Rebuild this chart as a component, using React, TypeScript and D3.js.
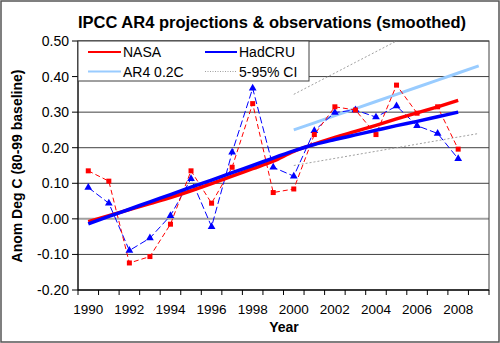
import React from "react";
import * as d3 from "d3";

const years = d3.range(1990, 2010).map(String);
const obsYears = d3.range(1990, 2009);
const nasa = [0.135, 0.106, -0.124, -0.106, -0.015, 0.135, 0.044, 0.145, 0.324, 0.074, 0.084, 0.237, 0.315, 0.306, 0.237, 0.376, 0.297, 0.315, 0.196];
const hadcru = [0.088, 0.044, -0.089, -0.054, 0.009, 0.113, -0.022, 0.187, 0.367, 0.145, 0.12, 0.248, 0.299, 0.306, 0.286, 0.317, 0.262, 0.24, 0.169];
const nasaSmooth = [-0.008, 0.009, 0.026, 0.043, 0.06, 0.079, 0.099, 0.12, 0.141, 0.162, 0.19, 0.21, 0.229, 0.246, 0.263, 0.281, 0.298, 0.315, 0.333];
const hadSmooth = [-0.014, 0.007, 0.027, 0.048, 0.068, 0.089, 0.109, 0.13, 0.15, 0.171, 0.191, 0.209, 0.223, 0.236, 0.249, 0.262, 0.274, 0.287, 0.3];
const projYears = d3.range(2000, 2010);
const ar4 = [0.25, 0.27, 0.29, 0.31, 0.33, 0.35, 0.37, 0.39, 0.41, 0.43];
const ciUpper = [0.35, 0.38, 0.41, 0.44, 0.47, 0.5, 0.53, 0.56, 0.59, 0.62];
const ciLower = [0.15, 0.16, 0.17, 0.18, 0.19, 0.2, 0.21, 0.22, 0.23, 0.24];
const yTicks = [-0.2, -0.1, 0, 0.1, 0.2, 0.3, 0.4, 0.5];
const xLabels = d3.range(1990, 2009, 2);

const FONT = "Arial, 'Liberation Sans', sans-serif";

export default function App() {
  const W = 500, H = 343;
  const L = 78, R = 489, T = 41, B = 290;
  const x = d3.scaleBand<string>().domain(years).range([L, R]).padding(0);
  const y = d3.scaleLinear().domain([-0.2, 0.5]).range([B, T]);
  const cx = (yr: number) => (x(String(yr)) as number) + x.bandwidth() / 2;

  const line = (yrs: number[], vals: number[]) =>
    d3.line<number>().x((_, i) => cx(yrs[i])).y((v) => y(v))(vals) || "";
  const smooth = (yrs: number[], vals: number[]) =>
    d3.line<number>().x((_, i) => cx(yrs[i])).y((v) => y(v)).curve(d3.curveMonotoneX)(vals) || "";

  const tri = d3.symbol().type(d3.symbolTriangle).size(26)() || "";

  const boundaries = d3.range(0, years.length + 1).map((i) => L + i * x.bandwidth());

  return (
    <svg width={W} height={H} style={{ position: "absolute", left: 0, top: 0, fontFamily: FONT }}>
      <defs>
        <clipPath id="plotclip">
          <rect x={L} y={T} width={R - L} height={B - T} />
        </clipPath>
      </defs>
      <rect x={0} y={0} width={W} height={H} fill="#fff" />
      <rect x={1} y={1} width={W - 2} height={H - 2} fill="none" stroke="#555" strokeWidth={1.5} />
      <text x={272} y={28} textAnchor="middle" fontSize={16.5} fontWeight="bold" fill="#000">
        IPCC AR4 projections &amp; observations (smoothed)
      </text>

      {/* gridlines */}
      {yTicks.map((t) => (
        <line key={t} x1={L} x2={R} y1={y(t)} y2={y(t)}
          stroke={t === 0 ? "#a0a0a0" : "#404040"} strokeWidth={t === 0 ? 2 : 1} />
      ))}
      <rect x={L} y={T} width={R - L} height={B - T} fill="none" stroke="#404040" strokeWidth={1} />

      {/* y ticks and labels */}
      {yTicks.map((t) => (
        <g key={"yt" + t}>
          <line x1={L - 6} x2={L} y1={y(t)} y2={y(t)} stroke="#000" />
          <text x={L - 9} y={y(t) + 5} textAnchor="end" fontSize={14} fill="#000">
            {t.toFixed(2)}
          </text>
        </g>
      ))}
      <line x1={L} x2={L} y1={T} y2={B} stroke="#000" />
      {/* x ticks */}
      <line x1={L} x2={R} y1={B} y2={B} stroke="#000" />
      {boundaries.map((b, i) => (
        <line key={"xt" + i} x1={b} x2={b} y1={B} y2={B + 5} stroke="#000" />
      ))}
      {xLabels.map((yr) => (
        <text key={"xl" + yr} x={cx(yr)} y={314} textAnchor="middle" fontSize={13.5} fill="#000">
          {yr}
        </text>
      ))}
      <text x={284} y={332} textAnchor="middle" fontSize={14} fontWeight="bold" fill="#000">Year</text>
      <text transform={`translate(22,166) rotate(-90)`} textAnchor="middle" fontSize={14} fontWeight="bold" fill="#000">
        Anom Deg C (80-99 baseline)
      </text>

      <g clipPath="url(#plotclip)">
        {/* CI */}
        <path d={line(projYears, ciUpper)} fill="none" stroke="#a0a0a0" strokeWidth={1} strokeDasharray="2,2" />
        <path d={line(projYears, ciLower)} fill="none" stroke="#a0a0a0" strokeWidth={1} strokeDasharray="2,2" />
        {/* AR4 */}
        <path d={line(projYears, ar4)} fill="none" stroke="#99ccff" strokeWidth={3} />
        {/* observations */}
        <path d={line(obsYears, hadcru)} fill="none" stroke="#0000ff" strokeWidth={1} strokeDasharray="7,3" />
        <path d={line(obsYears, nasa)} fill="none" stroke="#ff0000" strokeWidth={1} strokeDasharray="5,3" />
        {hadcru.map((v, i) => (
          <path key={"h" + i} d={tri} transform={`translate(${cx(obsYears[i])},${y(v)})`} fill="#0000ff" />
        ))}
        {nasa.map((v, i) => (
          <rect key={"n" + i} x={cx(obsYears[i]) - 2.5} y={y(v) - 2.5} width={5} height={5} fill="#ff0000" />
        ))}
        {/* smoothed */}
        <path d={smooth(obsYears, nasaSmooth)} fill="none" stroke="#ff0000" strokeWidth={3.5} />
        <path d={smooth(obsYears, hadSmooth)} fill="none" stroke="#0000ff" strokeWidth={3.5} />
      </g>

      {/* legend */}
      <rect x={L} y={T} width={231} height={40} fill="#fff" stroke="#404040" strokeWidth={1} />
      <line x1={88} x2={121} y1={52} y2={52} stroke="#ff0000" strokeWidth={2} />
      <text x={123} y={57} fontSize={14} fill="#000">NASA</text>
      <line x1={205} x2={237} y1={52} y2={52} stroke="#0000ff" strokeWidth={2} />
      <text x={239} y={57} fontSize={14} fill="#000">HadCRU</text>
      <line x1={88} x2={121} y1={71.5} y2={71.5} stroke="#99ccff" strokeWidth={2} />
      <text x={123} y={76.5} fontSize={14} fill="#000">AR4 0.2C</text>
      <line x1={205} x2={237} y1={71.5} y2={71.5} stroke="#a0a0a0" strokeWidth={1} strokeDasharray="1,1.5" />
      <text x={239} y={76.5} fontSize={14} fill="#000">5-95% CI</text>
    </svg>
  );
}
